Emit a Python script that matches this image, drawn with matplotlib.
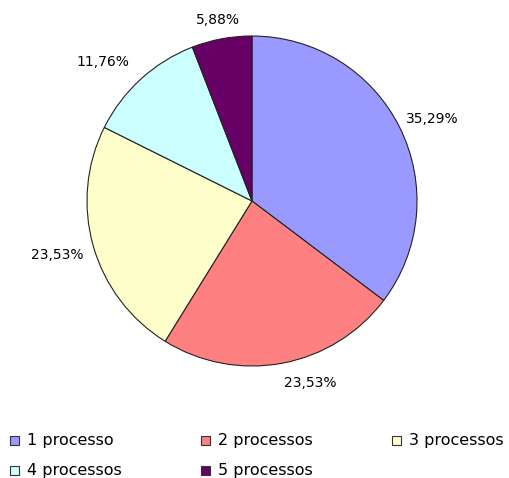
import matplotlib
matplotlib.use("Agg")
import matplotlib.pyplot as plt
import numpy as np
from matplotlib.patches import Rectangle

categories = ["1 processo", "2 processos", "3 processos", "4 processos", "5 processos"]
values = [35.29, 23.53, 23.53, 11.76, 5.88]
colors = ["#9999FF", "#FF8080", "#FFFFCC", "#CCFFFF", "#660066"]

W, H = 509, 478
fig = plt.figure(figsize=(W / 100, H / 100), dpi=100)
cx, cy, r = 252, 201, 165
ax = fig.add_axes([(cx - r) / W, (H - cy - r) / H, 2 * r / W, 2 * r / H])

wedges, texts, autotexts = ax.pie(
    values, colors=colors, startangle=90, counterclock=False,
    wedgeprops=dict(edgecolor="#222222", linewidth=0.8),
    autopct=lambda p: f"{p:.2f}%".replace(".", ","),
    pctdistance=1.2,
    textprops=dict(fontsize=10, family="DejaVu Sans", color="black"),
)
# label placement tweaks (radial distance, angular offset in degrees)
lab_dist = [1.20, 1.16, 1.225, 1.235, 1.115]
lab_dang = [-2.0, 7.0, -0.4, 4.6, 0.0]
for w, t, d, da in zip(wedges, autotexts, lab_dist, lab_dang):
    mid = np.deg2rad((w.theta1 + w.theta2) / 2 + da)
    t.set_position((d * np.cos(mid), d * np.sin(mid)))

ax.set_xlim(-1, 1)
ax.set_ylim(-1, 1)
ax.set_aspect("auto")
ax.axis("off")

# legend
for i, (lab, col) in enumerate(zip(categories, colors)):
    x0 = 10 + 191 * (i % 3)
    y0 = 440.5 + 30 * (i // 3)
    fig.patches.append(Rectangle((x0 / W, (H - y0 - 4.5) / H), 9 / W, 9 / H,
                                 transform=fig.transFigure, facecolor=col,
                                 edgecolor="#333333", linewidth=0.8))
    fig.text((x0 + 17) / W, (H - y0) / H, lab, fontsize=11.5, family="DejaVu Sans",
             va="center", ha="left")

fig.savefig("out.png", dpi=100)
